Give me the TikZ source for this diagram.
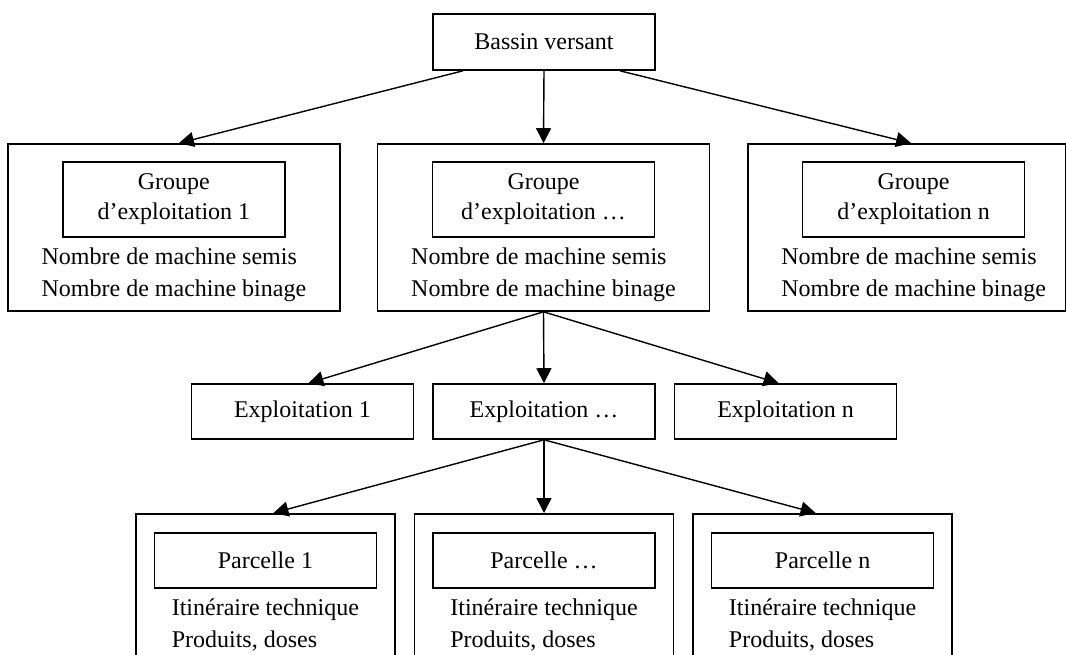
\documentclass[tikz,border=0pt]{standalone}
\usepackage{fontspec}
\setmainfont{Liberation Serif}
\usepackage{tikz}
\usetikzlibrary{arrows.meta,positioning}

\begin{document}
\begin{tikzpicture}[
  x=0.5pt, y=-0.5pt,
  every node/.style={font=\fontsize{12}{15}\selectfont},
  head/.style={
    draw, line width=0.8pt, minimum width=111pt, minimum height=27.5pt,
    align=center, inner sep=0pt
  },
  headtall/.style={head, minimum height=37.5pt},
  frame/.style={draw, line width=0.8pt, minimum width=166pt, minimum height=83.5pt, inner sep=0pt},
  plot/.style={draw, line width=0.8pt, minimum width=129.5pt, minimum height=90pt, inner sep=0pt},
  info/.style={align=left, inner sep=0pt, font=\fontsize{12}{16}\selectfont},
  arrow/.style={-{Triangle[length=7.5pt,width=7.5pt]}, line width=0.7pt}
]
  \useasboundingbox (0,0) rectangle (1066,654);
  \clip (0,0) rectangle (1066,654);

  % top
  \node[head, minimum height=28pt] (bassin) at (544,42) {Bassin versant};

  % groupes
  \node[frame] (g2) at (543.5,227.5) {};
  \node[frame, left=18pt of g2] (g1) {};
  \node[frame, right=18.5pt of g2, minimum width=159pt] (g3) {};
  \node[headtall, below=9pt of g1.north] (g1h) {Groupe\\d’exploitation 1};
  \node[headtall, below=9pt of g2.north] (g2h) {Groupe\\d’exploitation …};
  \node[headtall, below=9pt of g3.north, xshift=3.25pt] (g3h) {Groupe\\d’exploitation n};
  \node[info, below=5pt of g1h] (g1t) {Nombre de machine semis\\Nombre de machine binage};
  \node[info, below=5pt of g2h] (g2t) {Nombre de machine semis\\Nombre de machine binage};
  \node[info, below=5pt of g3h] (g3t) {Nombre de machine semis\\Nombre de machine binage};

  % exploitations
  \node[head] (e2) at (544,411.5) {Exploitation …};
  \node[head, left=9pt of e2] (e1) {Exploitation 1};
  \node[head, right=9pt of e2] (e3) {Exploitation n};

  % parcelles
  \node[plot, anchor=north] (p2) at (544,513) {};
  \node[plot, left=9pt of p2] (p1) {};
  \node[plot, right=9pt of p2] (p3) {};
  \node[head, below=9.5pt of p1.north] (p1h) {Parcelle 1};
  \node[head, below=9.5pt of p2.north] (p2h) {Parcelle …};
  \node[head, below=9.5pt of p3.north] (p3h) {Parcelle n};
  \node[info, below=5pt of p1h] (p1t) {Itinéraire technique\\Produits, doses};
  \node[info, below=5pt of p2h] (p2t) {Itinéraire technique\\Produits, doses};
  \node[info, below=5pt of p3h] (p3t) {Itinéraire technique\\Produits, doses};

  % arrows
  \draw[arrow] ([xshift=-40.5pt]bassin.south) -- ([xshift=2.5pt]g1.north);
  \draw[arrow] (bassin.south) -- (g2.north);
  \draw[arrow] ([xshift=38pt]bassin.south) -- ([xshift=2pt]g3.north);
  \draw[arrow] (g2.south) -- ([xshift=3pt]e1.north);
  \draw[arrow] (g2.south) -- (e2.north);
  \draw[arrow] (g2.south) -- ([xshift=-3.5pt]e3.north);
  \draw[arrow] (e2.south) -- ([xshift=4pt]p1.north);
  \draw[arrow] (e2.south) -- (p2.north);
  \draw[arrow] (e2.south) -- ([xshift=-3.5pt]p3.north);
\end{tikzpicture}
\end{document}
